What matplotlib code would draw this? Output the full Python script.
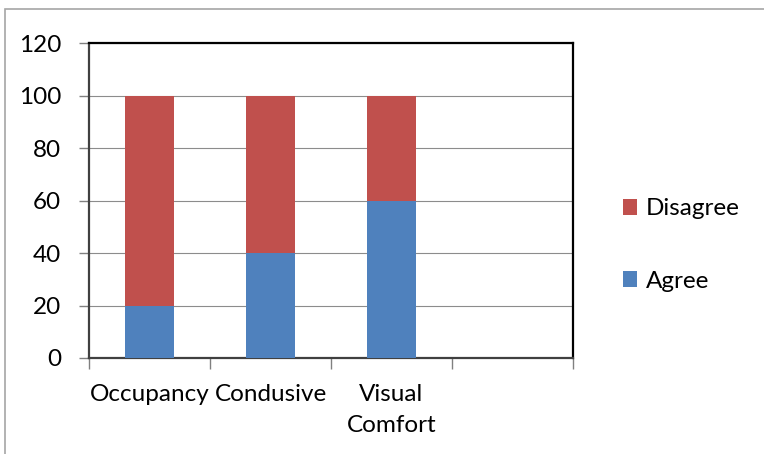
import matplotlib.pyplot as plt
import numpy as np
from matplotlib.patches import Rectangle

# данные
categories = ["Occupancy", "Condusive", "Visual\nComfort", ""]
agree = [20, 40, 60, 0]
disagree = [80, 60, 40, 0]
yticks = [0, 20, 40, 60, 80, 100, 120]

plt.rcParams['font.family'] = ['Lato', 'DejaVu Sans']
fs = 17.5

fig = plt.figure(figsize=(7.64, 4.54), dpi=100)
W, H = 764, 454
ax = fig.add_axes([89 / W, 1 - 358 / H, (573 - 89) / W, (358 - 43) / H])

# рамка вокруг диаграммы
fig.patches.append(Rectangle((5 / W, -0.1), 1.2, 1 - 9 / H + 0.1, transform=fig.transFigure,
                             fill=False, edgecolor='#a6a6a6', linewidth=1.2))

x = np.arange(len(categories))
ax.bar(x, agree, width=0.4, color='#4F81BD', label='Agree', zorder=3)
ax.bar(x, disagree, width=0.4, bottom=agree, color='#C0504D', label='Disagree', zorder=3)

ax.set_xlim(-0.5, len(categories) - 0.5)
ax.set_ylim(0, 120)
ax.set_yticks(yticks)
ax.set_yticklabels([str(v) for v in yticks], fontsize=fs)
ax.grid(axis='y', color='#8c8c8c', linewidth=0.8, zorder=0)

ax.set_xticks(x)
ax.set_xticklabels(categories, fontsize=fs, linespacing=1.6, va='top')
ax.tick_params(axis='x', length=0, pad=18.5)
ax.set_xticks(np.arange(-0.5, len(categories)), minor=True)
ax.tick_params(axis='x', which='minor', length=8, color='#808080', width=1)
ax.tick_params(axis='y', length=7, color='#808080', width=1, pad=13)

for s in ['top', 'right']:
    ax.spines[s].set_color('black')
    ax.spines[s].set_linewidth(1.6)
for s in ['left', 'bottom']:
    ax.spines[s].set_color('#404040')
    ax.spines[s].set_linewidth(1.6)

handles, labels = ax.get_legend_handles_labels()
fig.legend(handles[::-1], labels[::-1], loc='center left', bbox_to_anchor=(601 / W, 1 - 245 / H),
           frameon=False, fontsize=fs, handlelength=0.6, handleheight=0.6,
           handletextpad=0.35, labelspacing=2.1)

fig.savefig('out.png', dpi=100)
